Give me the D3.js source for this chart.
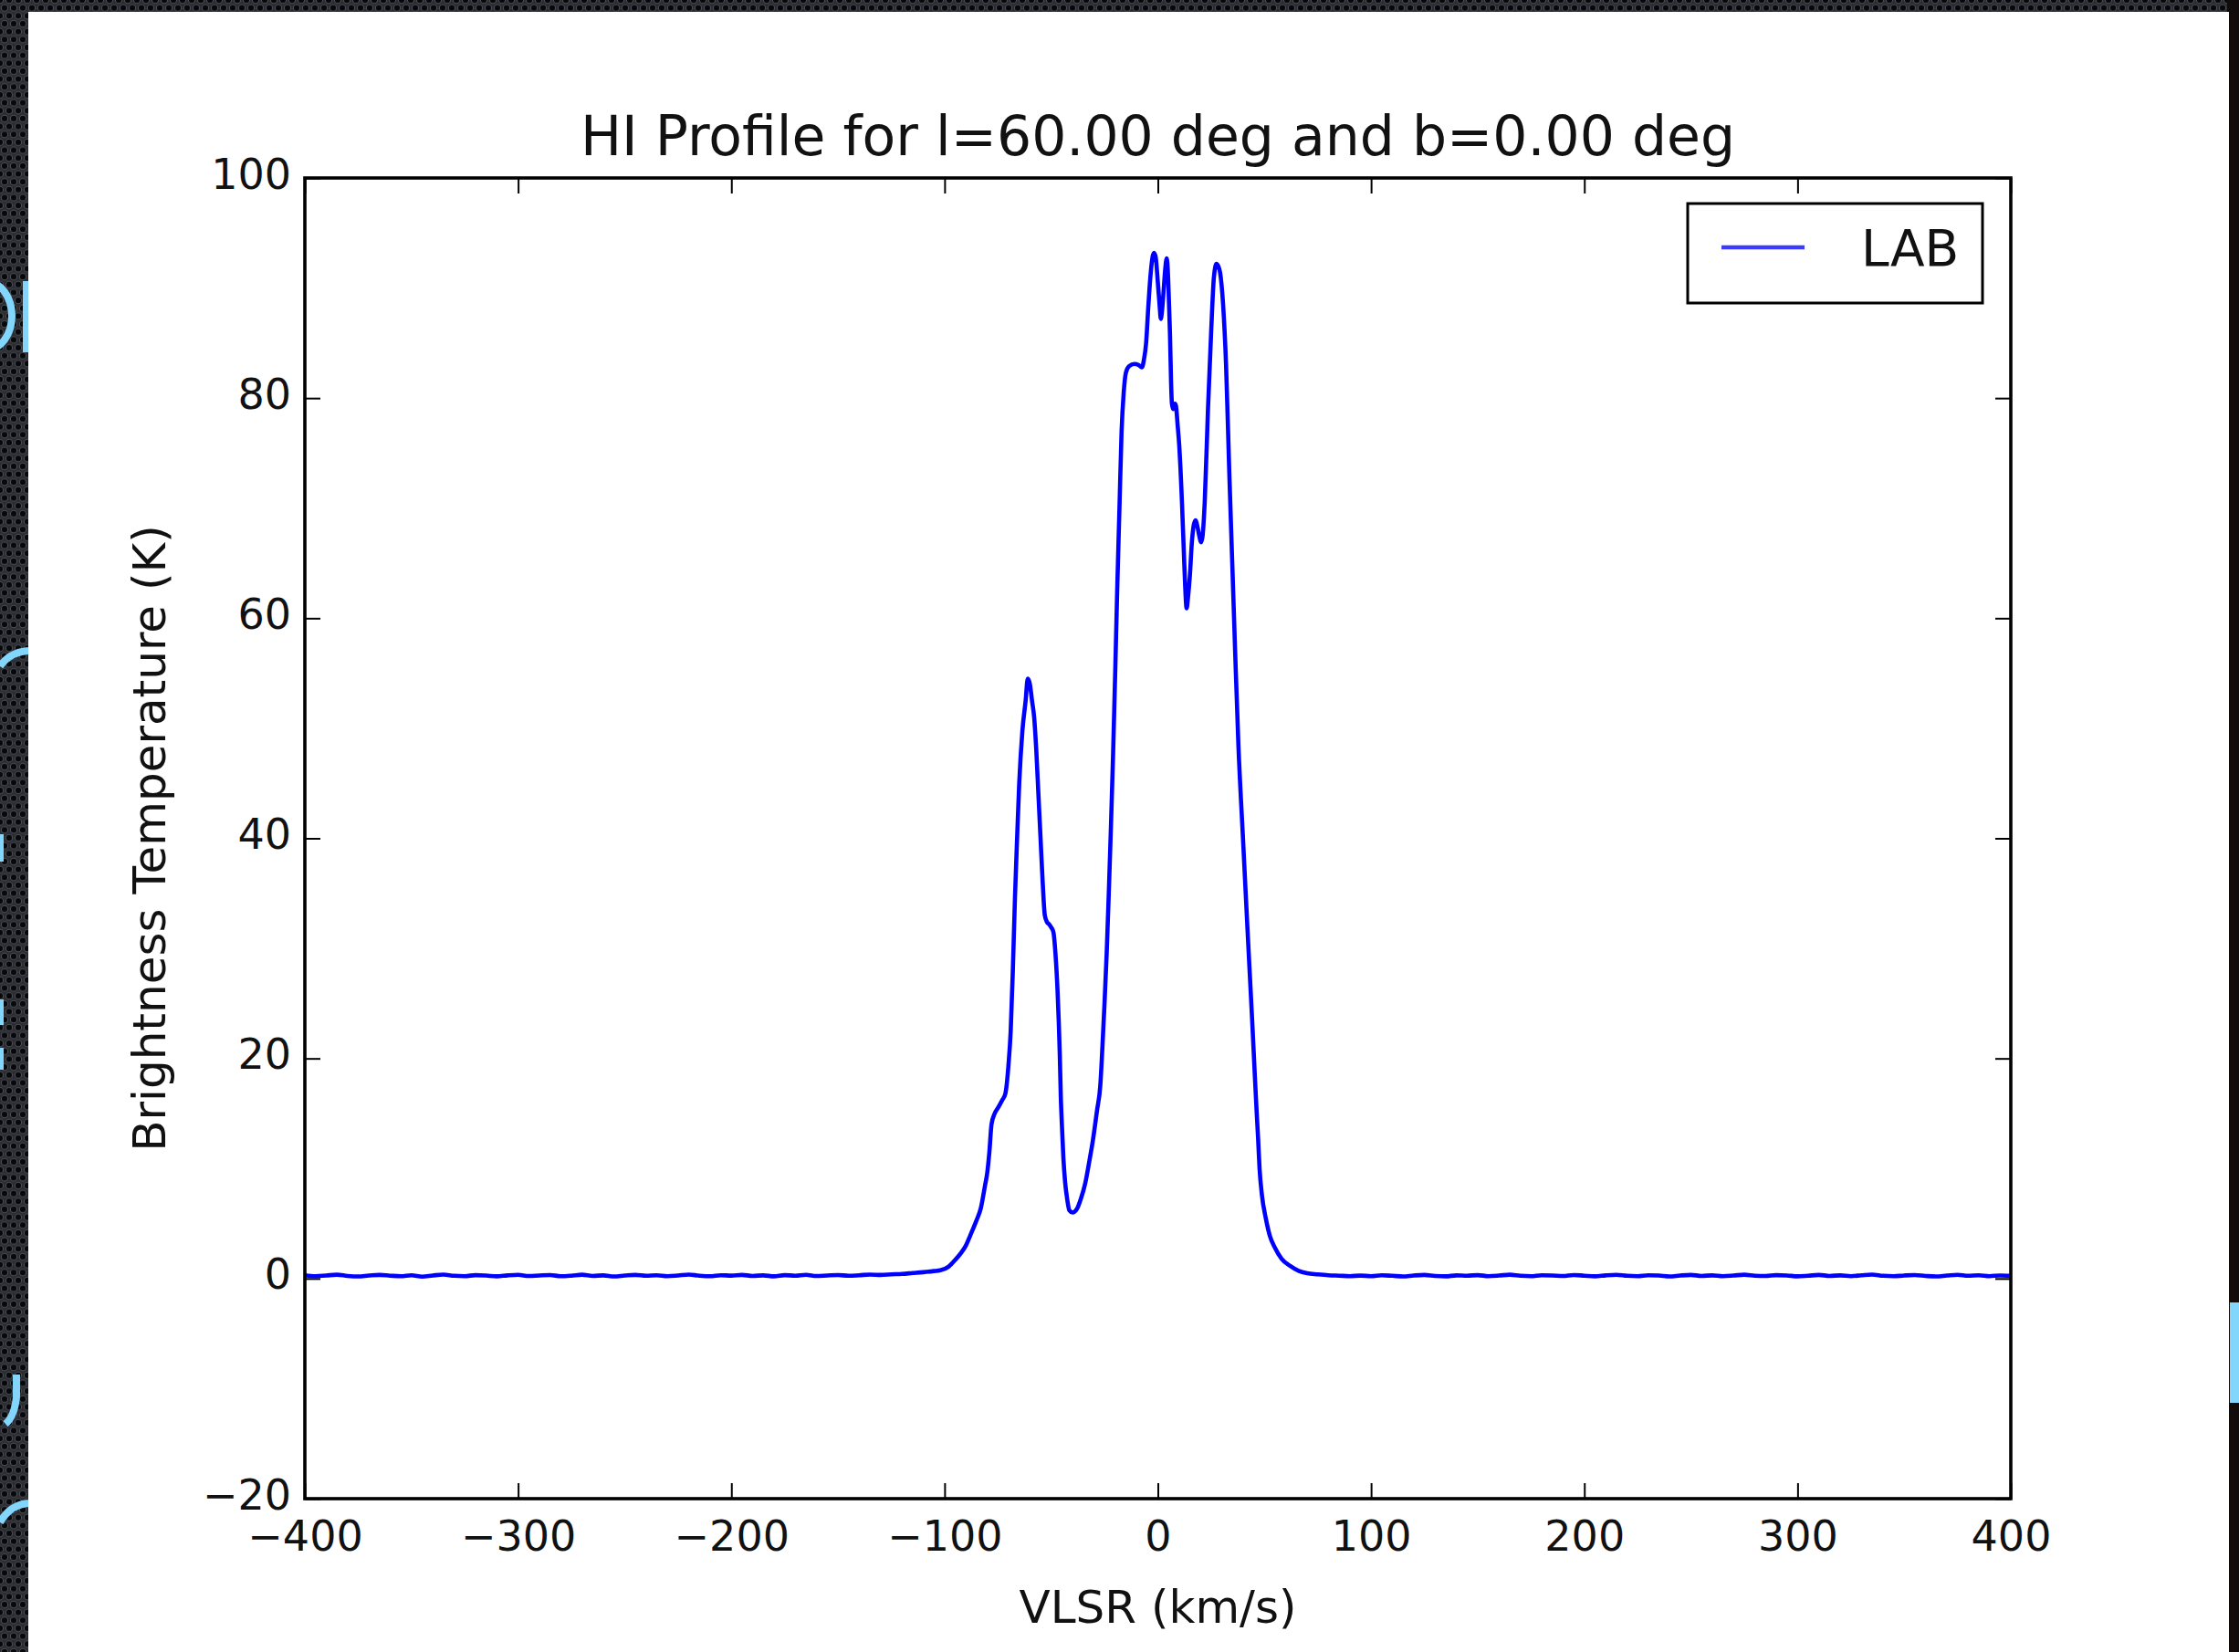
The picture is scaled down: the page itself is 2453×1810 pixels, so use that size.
<!DOCTYPE html>
<html>
<head>
<meta charset="utf-8">
<script src="https://cdn.jsdelivr.net/npm/d3@7"></script>
<style>
  html, body { margin: 0; padding: 0; background: #1f2126; }
  svg { display: block; }
  text { font-family: "DejaVu Sans", "Liberation Sans", sans-serif; fill: #111; }
</style>
</head>
<body>
<script>
// HI 21-cm spectrum from the LAB survey, l = 60 deg, b = 0 deg.
// Velocity (km/s, LSR) and brightness temperature (K).

const velocityTicks = [-400, -300, -200, -100, 0, 100, 200, 300, 400];
const temperatureTicks = [-20, 0, 20, 40, 60, 80, 100];

// low-velocity baseline channels
const wingLow = [
  [-400, 0.30], [-395, 0.22], [-390, 0.28], [-385, 0.35], [-380, 0.24], [-375, 0.19],
  [-370, 0.27], [-365, 0.33], [-360, 0.26], [-355, 0.21], [-350, 0.30], [-345, 0.17],
  [-340, 0.28], [-335, 0.36], [-330, 0.25], [-325, 0.22], [-320, 0.31], [-315, 0.27],
  [-310, 0.20], [-305, 0.29], [-300, 0.34], [-295, 0.23], [-290, 0.28], [-285, 0.32],
  [-280, 0.21], [-275, 0.26], [-270, 0.35], [-265, 0.24], [-260, 0.29], [-255, 0.19],
  [-250, 0.27], [-245, 0.33], [-240, 0.25], [-235, 0.30], [-230, 0.22], [-225, 0.28],
  [-220, 0.36], [-215, 0.26], [-210, 0.21], [-205, 0.30], [-200, 0.27], [-195, 0.33],
  [-190, 0.24], [-185, 0.29], [-180, 0.20], [-175, 0.31], [-170, 0.26], [-165, 0.34],
  [-160, 0.23], [-155, 0.28], [-150, 0.32], [-145, 0.25], [-140, 0.30], [-135, 0.36],
  [-130, 0.33], [-125, 0.38]
];

// emission complex
const emission = [
  [-120, 0.42], [-115, 0.50], [-110, 0.58], [-105, 0.68], [-102, 0.75], [-98, 1.1],
  [-95, 1.7], [-92, 2.4], [-90, 3.0], [-88, 3.9], [-85, 5.3], [-83, 6.4], [-81, 8.5],
  [-80, 9.6], [-79, 11.5], [-78, 14.0], [-76.5, 15.0], [-75, 15.5], [-73, 16.2],
  [-71.5, 16.8], [-70, 19.5], [-69, 22.5], [-68, 28.0], [-67, 34.6], [-66, 40.0],
  [-65, 45.0], [-63.5, 49.8], [-62, 52.5], [-61, 54.5], [-60, 54.0], [-59, 52.5],
  [-58, 51.0], [-57, 48.0], [-56, 44.0], [-55, 40.0], [-54, 36.0], [-53, 33.0],
  [-52, 32.4], [-51, 32.2], [-50, 31.9], [-49, 31.5], [-48, 29.5], [-47, 26.0],
  [-46, 20.5], [-45.5, 16.5], [-45, 14.0], [-44.3, 11.0], [-43.5, 8.8], [-42.5, 7.2],
  [-41.5, 6.2], [-40, 6.0], [-38, 6.3], [-36, 7.3], [-34, 8.7], [-32, 10.8],
  [-30.5, 12.5], [-28.5, 15.3], [-27, 17.5], [-26, 21.0], [-25, 25.0], [-24, 29.5],
  [-23, 35.0], [-22, 41.0], [-21, 47.5], [-20, 55.0], [-19, 63.0], [-18, 70.0],
  [-17, 77.0], [-16, 80.5], [-15, 82.3], [-13.5, 82.9], [-11, 83.1], [-9, 83.0],
  [-7.5, 82.8], [-6.5, 83.5], [-5.5, 85.0], [-4.5, 88.2], [-3.5, 91.0], [-2.5, 92.8],
  [-1.8, 93.2], [-1, 92.8], [0, 90.5], [0.8, 88.5], [1.4, 87.2], [2, 88.0],
  [2.8, 90.0], [3.5, 91.8], [4.2, 92.7], [4.7, 91.5], [5.2, 88.8], [5.7, 85.8],
  [6.2, 81.5], [6.6, 79.5], [7.2, 79.0], [8, 79.5], [8.5, 79.3], [9.3, 77.5],
  [10, 75.8], [11.3, 70.6], [12.2, 66.0], [12.8, 63.0], [13.5, 60.9], [14.2, 62.0],
  [15, 63.8], [16, 67.0], [17, 68.6], [17.8, 68.9], [18.6, 68.3], [19.3, 67.6],
  [20.3, 66.9], [21, 67.5], [22, 70.6], [23.5, 78.9], [25, 86.0], [26.3, 91.0],
  [27.5, 92.2], [28.3, 92.0], [29.2, 91.4], [30.6, 88.5], [32, 83.0], [33.5, 73.3],
  [34.9, 65.0], [36.3, 56.7], [37.8, 48.4], [39.9, 40.1], [42, 31.9], [44.2, 23.6],
  [45.6, 18.0], [46.3, 15.3], [47, 12.8], [47.7, 10.0], [48.8, 7.6], [50.6, 5.5],
  [52.5, 3.9], [54.9, 2.8], [58, 1.8], [62, 1.15], [66, 0.70], [70, 0.48],
  [75, 0.38], [80, 0.30], [85, 0.26], [90, 0.22]
];

// high-velocity baseline channels
const wingHigh = [
  [95, 0.27], [100, 0.22], [105, 0.30], [110, 0.25], [115, 0.19], [120, 0.28],
  [125, 0.33], [130, 0.24], [135, 0.20], [140, 0.29], [145, 0.26], [150, 0.31],
  [155, 0.22], [160, 0.27], [165, 0.35], [170, 0.25], [175, 0.21], [180, 0.30],
  [185, 0.28], [190, 0.23], [195, 0.32], [200, 0.26], [205, 0.20], [210, 0.29],
  [215, 0.34], [220, 0.25], [225, 0.22], [230, 0.30], [235, 0.27], [240, 0.19],
  [245, 0.28], [250, 0.33], [255, 0.24], [260, 0.29], [265, 0.21], [270, 0.27],
  [275, 0.35], [280, 0.26], [285, 0.23], [290, 0.31], [295, 0.28], [300, 0.20],
  [305, 0.26], [310, 0.33], [315, 0.24], [320, 0.29], [325, 0.22], [330, 0.30],
  [335, 0.36], [340, 0.25], [345, 0.21], [350, 0.28], [355, 0.32], [360, 0.24],
  [365, 0.19], [370, 0.27], [375, 0.34], [380, 0.25], [385, 0.30], [390, 0.22],
  [395, 0.28], [400, 0.26]
];

const profile = wingLow.concat(emission, wingHigh);

const W = 2453, H = 1810;
const plot = { left: 334, right: 2203, top: 195, bottom: 1642 };

const svg = d3.select("body").append("svg")
  .attr("width", W).attr("height", H);

// perforated-metal backdrop
const defs = svg.append("defs");
const pat = defs.append("pattern")
  .attr("id", "mesh").attr("patternUnits", "userSpaceOnUse")
  .attr("width", 10).attr("height", 17.32);
pat.append("rect").attr("width", 10).attr("height", 17.32).attr("fill", "#2a2c31");
[[0, 0], [10, 0], [5, 8.66], [0, 17.32], [10, 17.32]].forEach(([cx, cy]) => {
  pat.append("circle").attr("cx", cx).attr("cy", cy).attr("r", 3.6)
    .attr("fill", "#07080a").attr("stroke", "#4a4d55").attr("stroke-width", 1.1);
});
svg.append("rect").attr("width", W).attr("height", H).attr("fill", "url(#mesh)");
svg.append("rect").attr("x", 2440).attr("y", 0).attr("width", 13).attr("height", H)
  .attr("fill", "#120b0b");

// slide lettering peeking out at the edges
const cyan = "#82d5fb";
const slide = svg.append("g").attr("fill", "none").attr("stroke", cyan).attr("stroke-width", 8);
slide.append("ellipse").attr("cx", -14).attr("cy", 346).attr("rx", 27).attr("ry", 37);
slide.append("path").attr("d", "M0,730 Q12,713 34,713");
slide.append("path").attr("d", "M0,1668 Q12,1647 34,1647");
slide.append("path").attr("d", "M18,1506 L18,1530 Q16,1552 6,1560");
const slideFill = svg.append("g").attr("fill", cyan);
slideFill.append("rect").attr("x", 25).attr("y", 308).attr("width", 10).attr("height", 78);
slideFill.append("rect").attr("x", 0).attr("y", 914).attr("width", 4).attr("height", 30);
slideFill.append("rect").attr("x", 0).attr("y", 1095).attr("width", 4).attr("height", 28);
slideFill.append("rect").attr("x", 0).attr("y", 1148).attr("width", 4).attr("height", 24);
slideFill.append("rect").attr("x", 2443).attr("y", 1427).attr("width", 10).attr("height", 110);

// figure panel
svg.append("rect").attr("x", 31).attr("y", 13).attr("width", 2411).attr("height", H)
  .attr("fill", "#ffffff");

const x = d3.scaleLinear().domain([-400, 400]).range([plot.left, plot.right]);
const y = d3.scaleLinear().domain([-20, 100]).range([plot.bottom, plot.top]);

const tickLen = 17;
const fmt = d3.format("d");

function styleAxis(g) {
  g.select(".domain").remove();
  g.selectAll(".tick line").attr("stroke", "#000").attr("stroke-width", 2);
  g.selectAll(".tick text").attr("fill", "#111")
    .style("font-family", '"DejaVu Sans", sans-serif').style("font-size", "46px");
}

svg.append("g").attr("transform", `translate(0,${plot.bottom})`)
  .call(d3.axisBottom(x).tickValues(velocityTicks).tickFormat(fmt)
    .tickSizeInner(-tickLen).tickSizeOuter(0).tickPadding(24))
  .call(styleAxis);
svg.append("g").attr("transform", `translate(0,${plot.top})`)
  .call(d3.axisTop(x).tickValues(velocityTicks).tickFormat("")
    .tickSizeInner(-tickLen).tickSizeOuter(0))
  .call(styleAxis);
svg.append("g").attr("transform", `translate(${plot.left},0)`)
  .call(d3.axisLeft(y).tickValues(temperatureTicks).tickFormat(fmt)
    .tickSizeInner(-tickLen).tickSizeOuter(0).tickPadding(15))
  .call(styleAxis)
  .call(g => g.selectAll(".tick text").attr("dy", "0.24em"));
svg.append("g").attr("transform", `translate(${plot.right},0)`)
  .call(d3.axisRight(y).tickValues(temperatureTicks).tickFormat("")
    .tickSizeInner(-tickLen).tickSizeOuter(0))
  .call(styleAxis);

// spectrum
svg.append("defs").append("clipPath").attr("id", "plotClip")
  .append("rect").attr("x", plot.left).attr("y", plot.top)
  .attr("width", plot.right - plot.left).attr("height", plot.bottom - plot.top);

const line = d3.line().x(d => x(d[0])).y(d => y(d[1])).curve(d3.curveMonotoneX);
svg.append("path").datum(profile)
  .attr("clip-path", "url(#plotClip)")
  .attr("d", line)
  .attr("fill", "none").attr("stroke", "#0000ff")
  .attr("stroke-width", 4.6).attr("stroke-linejoin", "round");

// axes frame
svg.append("rect").attr("x", plot.left).attr("y", plot.top)
  .attr("width", plot.right - plot.left).attr("height", plot.bottom - plot.top)
  .attr("fill", "none").attr("stroke", "#000").attr("stroke-width", 3.6);

// titles
svg.append("text").attr("x", (plot.left + plot.right) / 2).attr("y", 170)
  .attr("text-anchor", "middle").style("font-size", "60px")
  .text("HI Profile for l=60.00 deg and b=0.00 deg");
svg.append("text").attr("x", (plot.left + plot.right) / 2).attr("y", 1778)
  .attr("text-anchor", "middle").style("font-size", "50px")
  .text("VLSR (km/s)");
svg.append("text")
  .attr("transform", `translate(181,${(plot.top + plot.bottom) / 2}) rotate(-90)`)
  .attr("text-anchor", "middle").style("font-size", "50px")
  .text("Brightness Temperature (K)");

// legend
const legend = svg.append("g");
legend.append("rect").attr("x", 1849).attr("y", 223).attr("width", 323).attr("height", 109)
  .attr("fill", "#fff").attr("stroke", "#000").attr("stroke-width", 3);
legend.append("line").attr("x1", 1886).attr("x2", 1977).attr("y1", 271).attr("y2", 271)
  .attr("stroke", "#3c3cff").attr("stroke-width", 4.6);
legend.append("text").attr("x", 2039).attr("y", 291).style("font-size", "55px").text("LAB");
</script>
</body>
</html>
